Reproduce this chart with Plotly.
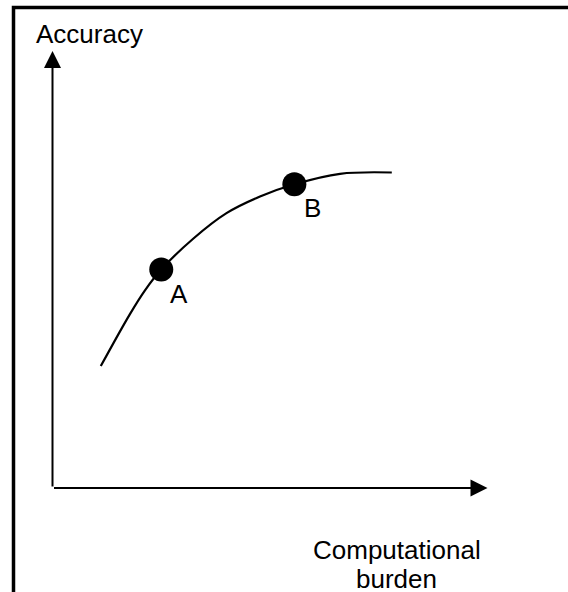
import plotly.graph_objects as go

# Curve (abstract units: axes run 0..10)
burden = [1.11, 1.78, 2.13, 2.5, 3.24, 4.0, 4.77, 5.56, 6.61, 7.8]
accuracy = [2.79, 3.98, 4.53, 5.0, 5.71, 6.29, 6.67, 6.95, 7.19, 7.22]

point_labels = ["A", "B"]
point_x = [2.5, 5.56]
point_y = [5.0, 6.95]

axis_len = [10, 10]
y_title = "Accuracy"
x_title_lines = ["Computational", "burden"]

FONT = "Liberation Sans, Arial, sans-serif"
FS = 26

fig = go.Figure()
fig.add_trace(go.Scatter(x=burden, y=accuracy, mode="lines",
                         line=dict(color="black", width=2.2, shape="spline", smoothing=1.0),
                         hoverinfo="skip"))
fig.add_trace(go.Scatter(x=point_x, y=point_y, mode="markers",
                         marker=dict(color="black", size=24),
                         hoverinfo="skip"))

ann = []
# axis arrows
ann.append(dict(x=axis_len[0], y=0, ax=0, ay=0, xref="x", yref="y", axref="x", ayref="y",
                text="", showarrow=True, arrowhead=2, arrowwidth=2, arrowsize=1.7,
                arrowcolor="black", standoff=0))
ann.append(dict(x=0, y=axis_len[1], ax=0, ay=0, xref="x", yref="y", axref="x", ayref="y",
                text="", showarrow=True, arrowhead=2, arrowwidth=2, arrowsize=1.7,
                arrowcolor="black", standoff=0))
for lab, px, py in zip(point_labels, point_x, point_y):
    ann.append(dict(x=px, y=py, xref="x", yref="y", text=lab, showarrow=False,
                    xshift=18, yshift=-24, font=dict(family=FONT, size=FS, color="black")))
ann.append(dict(x=-0.425, y=10.4, xref="x", yref="y", text=y_title, showarrow=False,
                xanchor="left", font=dict(family=FONT, size=FS, color="black")))
for line_txt, ly in zip(x_title_lines, [-1.42, -2.08]):
    ann.append(dict(x=7.91, y=ly, xref="x", yref="y", text=line_txt, showarrow=False,
                    font=dict(family=FONT, size=FS, color="black")))

fig.update_layout(
    width=568, height=592, autosize=False,
    margin=dict(l=0, r=0, t=0, b=0),
    paper_bgcolor="white", plot_bgcolor="white",
    showlegend=False,
    xaxis=dict(visible=False, range=[-1.2069, 11.8506], fixedrange=True),
    yaxis=dict(visible=False, range=[-2.3799, 11.1670], fixedrange=True),
    annotations=ann,
    shapes=[dict(type="rect", xref="paper", yref="paper",
                 x0=13.5 / 568, x1=1.05, y0=-0.05, y1=(592 - 7.5) / 592,
                 line=dict(color="black", width=3.5), fillcolor="rgba(0,0,0,0)")],
)

fig.write_html("out.html", config={"displayModeBar": False},
               post_script="document.body.style.margin='0';document.body.style.overflow='hidden';")
